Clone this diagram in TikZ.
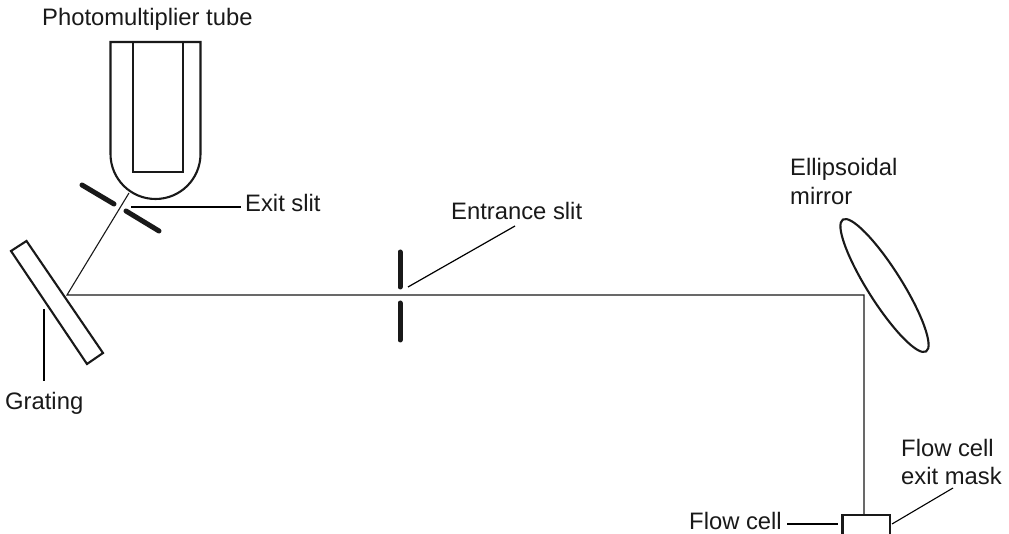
\documentclass[tikz,border=0pt]{standalone}
\usepackage{fontspec}
\setmainfont{Liberation Sans}
\tikzset{
  part/.style={draw=black!90,line width=2.1pt,line join=miter},
  ray/.style={draw=black!90,line width=1.1pt},
  slitbar/.style={draw=black!90,line width=5pt,line cap=round},
  leader/.style={draw=black,line width=1.7pt},
  lab/.style={inner sep=0pt,anchor=base west,font=\fontsize{23.8}{27}\selectfont,text=black!90}
}
\begin{document}
\begin{tikzpicture}[x=1pt,y=-1pt]
\useasboundingbox (0,0) rectangle (1009,534);
\node[lab] (tPMT) at (42,26) {Photomultiplier tube};
\node[lab] (tExit) at (245,212) {Exit slit};
\node[lab] (tEntr) at (451,220) {Entrance slit};
\node[lab] (tGrat) at (5,409) {Grating};
\node[lab] (tEll1) at (790,176) {Ellipsoidal};
\node[lab] (tEll2) at (790,205) {mirror};
\node[lab] (tMask1) at (901,456) {Flow cell};
\node[lab] (tMask2) at (901,484) {exit mask};
\node[lab] (tCell) at (689,529) {Flow cell};
% rays
\coordinate (gHit) at (67,295);
\coordinate (tubeHit) at (129,193);
\coordinate (mHit) at (864,295);
\coordinate (cellTop) at (864,515);
\draw[ray] (tubeHit) -- (gHit) -- (mHit) -- (cellTop);
% tube
\draw[part] (110.5,42) -- (200.5,42) -- (200.5,154) arc[start angle=0,end angle=180,radius=45] -- cycle;
\draw[part] (133,42) rectangle (183,172);
% exit slit
\coordinate (s1a) at (82,185); \coordinate (s1b) at (114,204);
\coordinate (s2a) at (126,211); \coordinate (s2b) at (159,231);
\draw[slitbar] (s1a) -- (s1b);
\draw[slitbar] (s2a) -- (s2b);
% entrance slit
\coordinate (e1a) at (400,252); \coordinate (e1b) at (400,287);
\coordinate (e2a) at (400,303); \coordinate (e2b) at (400,340);
\draw[slitbar] (e1a) -- (e1b);
\draw[slitbar] (e2a) -- (e2b);
% grating
\draw[part] (11,251) -- (26.5,241) -- (103,353) -- (87,364) -- cycle;
% mirror
\draw[part] (884.5,285.5) ellipse[x radius=78,y radius=17,rotate=-57.7];
% flow cell
\draw[part] (842.5,536) -- (842.5,515) -- (890,515) -- (890,536);
% leaders
\coordinate (l1a) at (131,207); \coordinate (l1b) at (241,207);
\draw[leader] (l1a) -- (l1b);
\coordinate (l2a) at (44,309); \coordinate (l2b) at (44,381);
\draw[leader] (l2a) -- (l2b);
\coordinate (l3a) at (408,287); \coordinate (l3b) at (515,226);
\draw[leader,line width=1.2pt] (l3a) -- (l3b);
\coordinate (l4a) at (787,524); \coordinate (l4b) at (838,524);
\draw[leader] (l4a) -- (l4b);
\coordinate (l5a) at (892,524); \coordinate (l5b) at (953,488);
\draw[leader,line width=1.1pt] (l5a) -- (l5b);
\end{tikzpicture}
\end{document}
